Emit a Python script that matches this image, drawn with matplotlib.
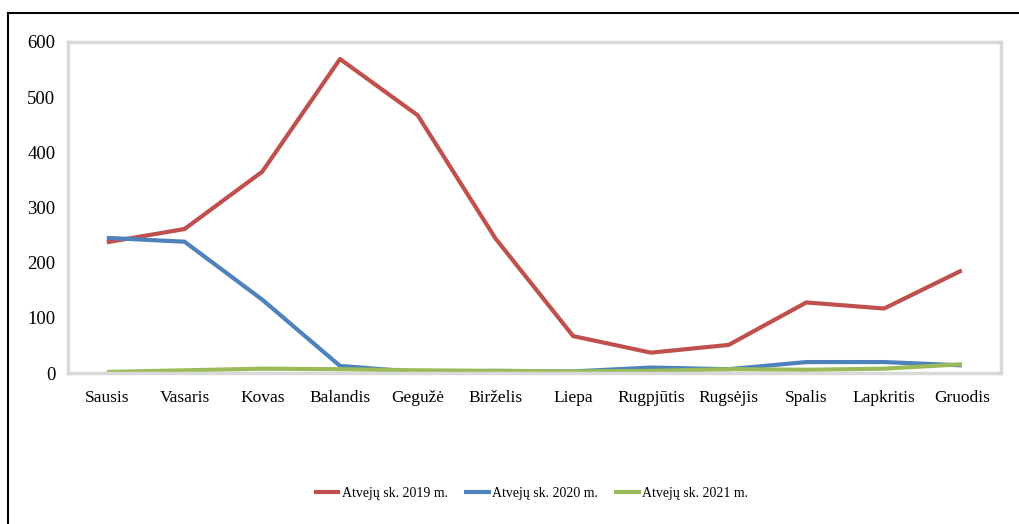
import matplotlib
matplotlib.use("Agg")
import matplotlib.pyplot as plt
from matplotlib.lines import Line2D

months = ["Sausis", "Vasaris", "Kovas", "Balandis", "Gegužė", "Birželis",
          "Liepa", "Rugpjūtis", "Rugsėjis", "Spalis", "Lapkritis", "Gruodis"]
cases_2019 = [237, 261, 365, 569, 467, 244, 67, 37, 51, 128, 117, 186]
cases_2020 = [245, 238, 133, 13, 2, 4, 3, 10, 7, 20, 20, 14]
cases_2021 = [2, 5, 8, 7, 5, 4, 3, 4, 7, 6, 8, 16]
labels = ["Atvejų sk. 2019 m.", "Atvejų sk. 2020 m.", "Atvejų sk. 2021 m."]
colors = ["#C0504D", "#4F81BD", "#9BBB59"]

plt.rcParams['font.family'] = ['Liberation Serif', 'DejaVu Serif']

fig = plt.figure(figsize=(10.19, 5.24), dpi=100)
ax = fig.add_axes([0.0667, 0.288, 0.9153, 0.632])

x = list(range(len(months)))
for vals, lab, c in zip([cases_2019, cases_2020, cases_2021], labels, colors):
    ax.plot(x, vals, color=c, lw=3, label=lab, solid_capstyle='butt')

ax.set_xlim(-0.5, 11.5)
ax.set_ylim(0, 600)
ax.set_yticks(range(0, 601, 100))
ax.set_xticks(x)
ax.set_xticklabels(months)
ax.tick_params(length=0, labelsize=12.5)
ax.tick_params(axis='y', pad=9, labelsize=13.5)
ax.tick_params(axis='x', pad=12)
for s in ax.spines.values():
    s.set_color("#d9d9d9")
    s.set_linewidth(2.5)

fig.legend(loc='center', bbox_to_anchor=(0.521, 0.058), ncol=3, frameon=False,
           fontsize=10, handlelength=1.9, handletextpad=0.08, columnspacing=1.2)

# outer border (top and left only visible)
fig.add_artist(Line2D([0.0079, 1.0], [0.975, 0.975], color='black', lw=1.5, transform=fig.transFigure))
fig.add_artist(Line2D([0.0079, 0.0079], [0.0, 0.975], color='black', lw=1.5, transform=fig.transFigure))

fig.savefig("out.png", dpi=100)
